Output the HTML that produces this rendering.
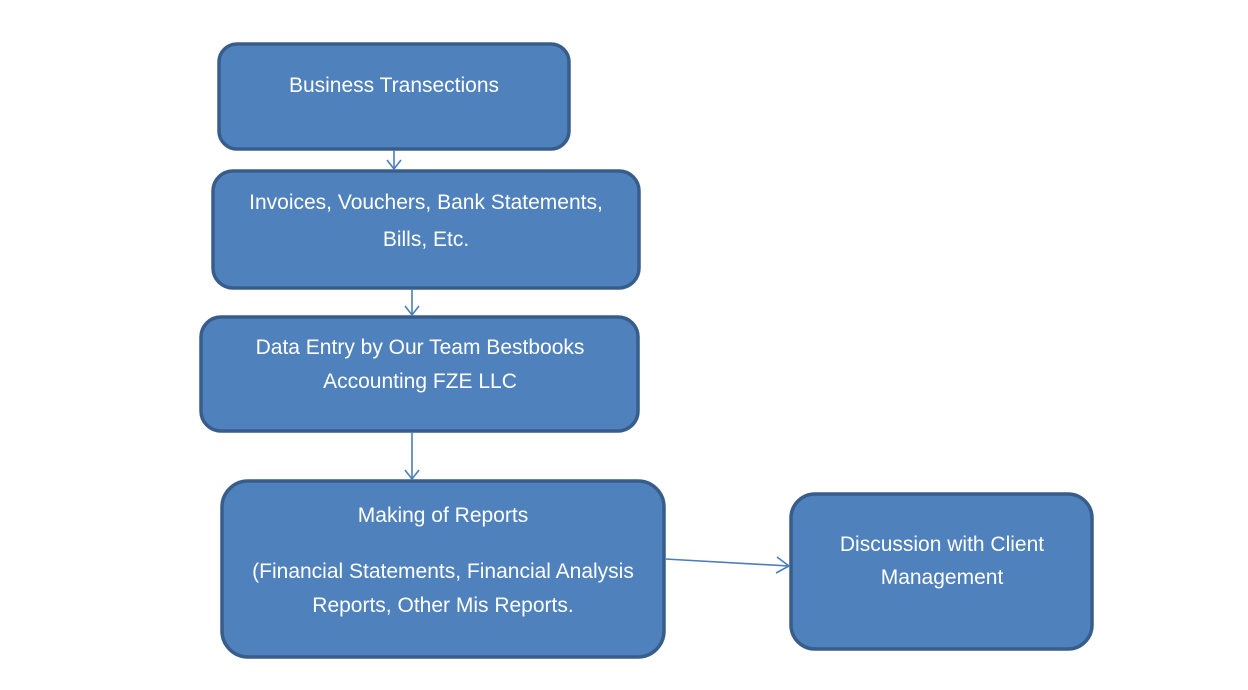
<!DOCTYPE html>
<html><head><meta charset="utf-8"><style>
html,body{margin:0;padding:0;background:#fff;}
svg{display:block;}
text{font-family:"Liberation Sans",sans-serif;font-size:21px;fill:#fff;text-anchor:middle;}
</style></head><body>
<svg width="1248" height="690" viewBox="0 0 1248 690" xmlns="http://www.w3.org/2000/svg">
<g fill="#4f81bd" stroke="#385d8a" stroke-width="3.5">
<rect x="219" y="44" width="350" height="105" rx="18"/>
<rect x="213" y="171" width="426" height="117" rx="20"/>
<rect x="201" y="317" width="437" height="114" rx="20"/>
<rect x="222" y="481" width="442" height="176" rx="26"/>
<rect x="791" y="494" width="301" height="155" rx="24"/>
</g>
<g stroke="#4a7ebb" stroke-width="1.6" fill="none">
<line x1="394" y1="150" x2="394" y2="169"/>
<polyline points="387,160 394,169 401,160"/>
<line x1="412" y1="289" x2="412" y2="315"/>
<polyline points="405,306 412,315 419,306"/>
<line x1="412" y1="432" x2="412" y2="479"/>
<polyline points="405,470 412,479 419,470"/>
<line x1="665" y1="559" x2="789" y2="566"/>
<polyline points="777,557 789,566 776,573"/>
</g>
<text x="394" y="92">Business Transections</text>
<text x="426" y="209">Invoices, Vouchers, Bank Statements,</text>
<text x="426" y="246">Bills, Etc.</text>
<text x="420" y="354">Data Entry by Our Team Bestbooks</text>
<text x="420" y="388">Accounting FZE LLC</text>
<text x="443" y="522">Making of Reports</text>
<text x="443" y="578">(Financial Statements, Financial Analysis</text>
<text x="443" y="612">Reports, Other Mis Reports.</text>
<text x="942" y="551">Discussion with Client</text>
<text x="942" y="584">Management</text>
</svg>
</body></html>
